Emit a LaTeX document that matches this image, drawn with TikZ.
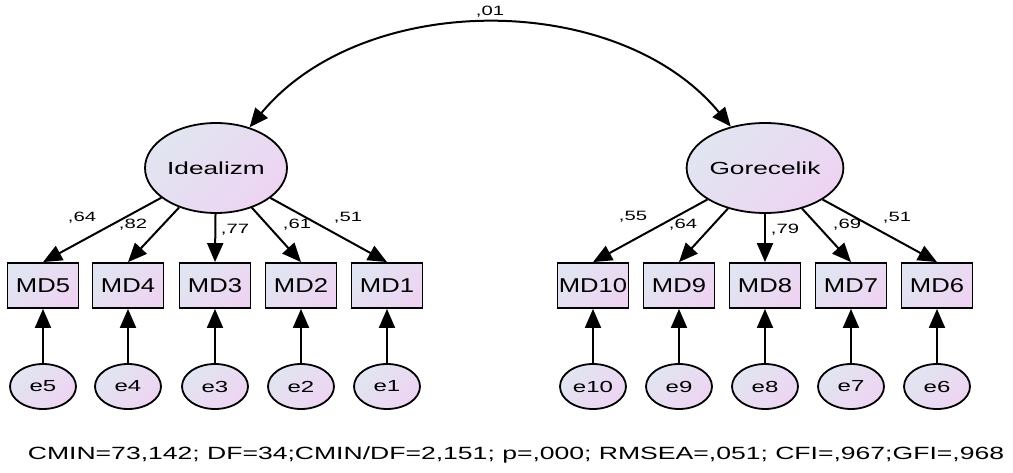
\documentclass[tikz,border=0pt]{standalone}
\usepackage{fontspec}
\setmainfont{Liberation Sans}[FakeStretch=1.5]
\newfontfamily\boxfont{Liberation Sans}[FakeStretch=1.28]
\usetikzlibrary{shapes.geometric,arrows.meta}
\definecolor{shadeA}{RGB}{225,229,241}
\definecolor{shadeB}{RGB}{238,212,242}
\begin{document}
\begin{tikzpicture}[x=1pt,y=1pt,>={Triangle[length=19pt,width=16pt]},
  latent/.style={ellipse,draw,line width=1.8pt,minimum width=142pt,minimum height=90pt,inner sep=0pt,
    top color=shadeA,bottom color=shadeB,shading angle=45,font=\fontsize{17.5}{20}\selectfont},
  observed/.style={rectangle,draw,line width=1.8pt,minimum width=71pt,minimum height=45pt,inner sep=0pt,
    top color=shadeA,bottom color=shadeB,shading angle=45,font=\boxfont\fontsize{20}{22}\selectfont},
  errvar/.style={ellipse,draw,line width=1.8pt,minimum width=66pt,minimum height=45pt,inner sep=0pt,
    top color=shadeA,bottom color=shadeB,shading angle=45,font=\fontsize{16}{18}\selectfont},
  path/.style={->,line width=2pt},
  coef/.style={font=\fontsize{13.5}{15}\selectfont}]
\useasboundingbox (0,0) rectangle (1013,472);
\node[latent] (ideal) at (216,304) {Idealizm};
\node[latent] (gore) at (765,304) {Gorecelik};
% indicators and their errors
\foreach \i/\x in {5/43,4/128,3/215,2/301,1/387}{
  \node[observed] (md\i) at (\x,186.5) {MD\i};
  \node[errvar] (e\i) at (\x,85.5) {e\i};
  \draw[path] (ideal) -- (md\i.north);
  \draw[path] (e\i) -- (md\i);
}
\foreach \i/\x in {10/593,9/679,8/765,7/851,6/937}{
  \node[observed] (md\i) at (\x,186.5) {MD\i};
  \node[errvar] (e\i) at (\x,85.5) {e\i};
  \draw[path] (gore) -- (md\i.north);
  \draw[path] (e\i) -- (md\i);
}
% loadings
\node[coef] at (82,254) {,64};
\node[coef] at (133,247) {,82};
\node[coef] at (235,242) {,77};
\node[coef] at (297,247) {,61};
\node[coef] at (348,254) {,51};
\node[coef] at (633,255) {,55};
\node[coef] at (683,247) {,64};
\node[coef] at (785,242) {,79};
\node[coef] at (847,247) {,69};
\node[coef] at (897,254) {,51};
% covariance
\draw[<->,line width=2pt] (ideal) .. controls (363,482) and (618,482) .. (gore);
\node[coef] (cov) at (490,460) {,01};
\node[anchor=base,font=\fontsize{17.7}{20}\selectfont] (fit) at (516,13)
  {CMIN=73,142; DF=34;CMIN/DF=2,151; p=,000; RMSEA=,051; CFI=,967;GFI=,968};
\end{tikzpicture}
\end{document}
